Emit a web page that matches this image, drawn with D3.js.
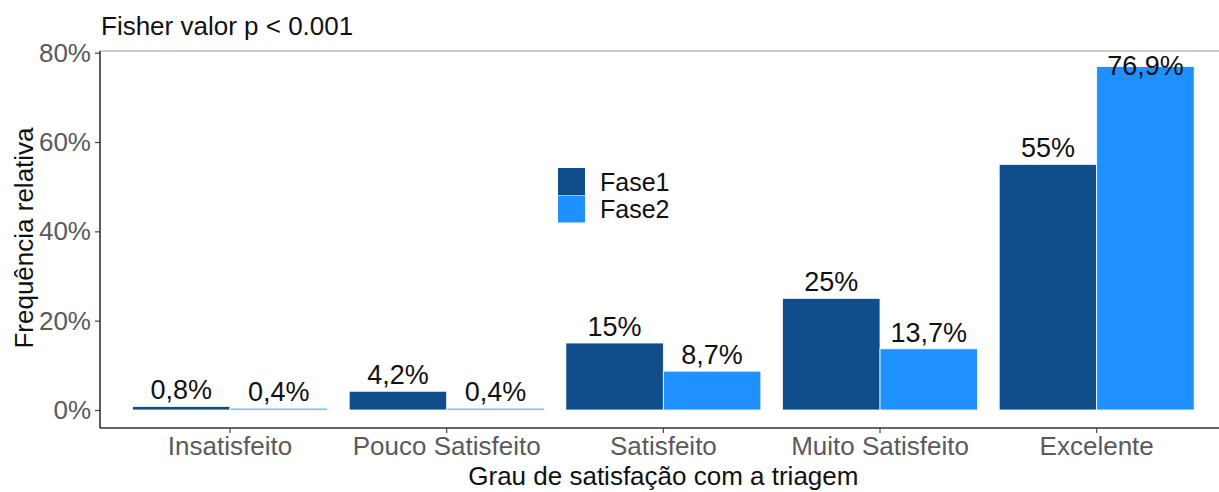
<!DOCTYPE html>
<html>
<head>
<meta charset="utf-8">
<script src="https://cdn.jsdelivr.net/npm/d3@7"></script>
<style>
  body { margin: 0; background: #fff; }
  svg text { font-family: "Liberation Sans", Arial, sans-serif; }
</style>
</head>
<body>
<svg id="chart" width="1219" height="492"></svg>
<script>
// data
const categories = ["Insatisfeito", "Pouco Satisfeito", "Satisfeito", "Muito Satisfeito", "Excelente"];
const fases = ["Fase1", "Fase2"];
const fase1 = [0.8, 4.2, 15, 25, 55];
const fase2 = [0.4, 0.4, 8.7, 13.7, 76.9];
const yTicks = [0, 20, 40, 60, 80];
const title = "Fisher valor p < 0.001";
const xTitle = "Grau de satisfação com a triagem";
const yTitle = "Frequência relativa";

const colors = { Fase1: "#104E8B", Fase2: "#1E90FF" };

// panel box (right side runs off the picture, as in the reference)
const panel = { left: 100, right: 1226.7, top: 51, bottom: 428 };

const svg = d3.select("#chart");

const x = d3.scaleBand()
    .domain(categories)
    .range([panel.left, panel.right])
    .paddingInner(0.1)
    .paddingOuter(0.15);
const xInner = d3.scaleBand().domain(fases).range([0, x.bandwidth()]);
const y = d3.scaleLinear().domain([0, 80]).range([410, 52.7]);

const rows = [];
categories.forEach((c, i) => {
    rows.push({ cat: c, fase: "Fase1", value: fase1[i] });
    rows.push({ cat: c, fase: "Fase2", value: fase2[i] });
});
const fmt = v => String(v).replace(".", ",") + "%";

// bars
svg.append("g").selectAll("rect")
    .data(rows)
    .enter()
    .append("rect")
    .attr("x", d => x(d.cat) + xInner(d.fase))
    .attr("y", d => y(d.value))
    .attr("width", xInner.bandwidth())
    .attr("height", d => y(0) - y(d.value))
    .attr("fill", d => colors[d.fase])
    .attr("stroke", "white")
    .attr("stroke-width", 0.8);

// value labels, kept inside the panel
svg.append("g").selectAll("text")
    .data(rows)
    .enter()
    .append("text")
    .attr("x", d => x(d.cat) + xInner(d.fase) + xInner.bandwidth() / 2)
    .attr("y", d => Math.max(y(d.value) - 7, panel.top + 24))
    .attr("text-anchor", "middle")
    .attr("font-size", 27)
    .attr("fill", "#111")
    .text(d => fmt(d.value));

// axes
const yAxis = svg.append("g")
    .attr("transform", `translate(${panel.left},0)`)
    .call(d3.axisLeft(y).tickValues(yTicks).tickSize(5).tickPadding(4).tickFormat(d => d + "%"));
const xAxis = svg.append("g")
    .attr("transform", `translate(0,${panel.bottom})`)
    .call(d3.axisBottom(x).tickSize(5).tickPadding(4));
[yAxis, xAxis].forEach(g => {
    g.select(".domain").remove();
    g.selectAll(".tick line").attr("stroke", "#444").attr("stroke-width", 1.2);
    g.selectAll(".tick text")
        .attr("font-size", 26)
        .attr("fill", "#5a5a5a")
        .style("font-family", '"Liberation Sans", Arial, sans-serif');
});

// panel lines
svg.append("line")
    .attr("x1", panel.left).attr("x2", panel.right)
    .attr("y1", panel.top).attr("y2", panel.top)
    .attr("stroke", "#999").attr("stroke-width", 1.2);
svg.append("line")
    .attr("x1", panel.left).attr("x2", panel.left)
    .attr("y1", panel.top).attr("y2", panel.bottom)
    .attr("stroke", "#333").attr("stroke-width", 1.6);
svg.append("line")
    .attr("x1", panel.left).attr("x2", panel.right)
    .attr("y1", panel.bottom).attr("y2", panel.bottom)
    .attr("stroke", "#333").attr("stroke-width", 1.6);

// titles
svg.append("text")
    .attr("x", 101).attr("y", 35)
    .attr("font-size", 26)
    .attr("fill", "#111")
    .text(title);
svg.append("text")
    .attr("x", (panel.left + panel.right) / 2).attr("y", 485)
    .attr("text-anchor", "middle")
    .attr("font-size", 26)
    .attr("fill", "#111")
    .text(xTitle);
svg.append("text")
    .attr("transform", "translate(33,238) rotate(-90)")
    .attr("text-anchor", "middle")
    .attr("font-size", 26)
    .attr("fill", "#111")
    .text(yTitle);

// legend
const legend = svg.append("g").attr("transform", "translate(558,168)");
fases.forEach((f, i) => {
    legend.append("rect")
        .attr("x", 0).attr("y", i * 27.5)
        .attr("width", 27).attr("height", 27)
        .attr("fill", colors[f]);
    legend.append("text")
        .attr("x", 42).attr("y", i * 27.5 + 22.5)
        .attr("font-size", 25)
        .attr("fill", "#111")
        .text(f);
});
</script>
</body>
</html>
